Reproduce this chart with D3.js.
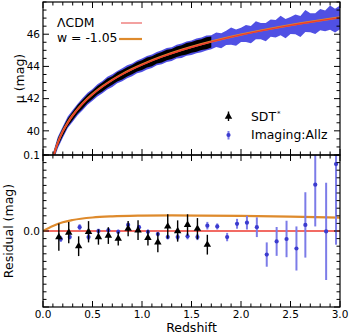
<!DOCTYPE html>
<html><head><meta charset="utf-8">
<script src="https://cdn.jsdelivr.net/npm/d3@7"></script>
<style>
html,body{margin:0;padding:0;background:#fff;}
svg{display:block;font-family:"DejaVu Sans",sans-serif;}
</style></head><body>
<svg id="c" width="350" height="334"></svg>
<script>
// ---- model curves ----
const lcdmZ = [0.10,0.15,0.20,0.25,0.30,0.40,0.50,0.60,0.70,0.80,0.90,1.00,1.20,1.40,1.60,1.80,2.00,2.20,2.40,2.60,2.80,3.00];
const lcdmMu = [38.315,39.266,39.956,40.502,40.955,41.684,42.261,42.739,43.147,43.503,43.818,44.100,44.591,45.005,45.363,45.678,45.958,46.211,46.441,46.652,46.846,47.028];
const wZ   = [0,0.1,0.2,0.3,0.5,0.7,1.0,1.3,1.6,2.0,2.5,3.0];
const wRes = [0,0.0065,0.0115,0.0145,0.0178,0.0193,0.0202,0.0205,0.0203,0.0198,0.0188,0.0176];

// ---- Hubble diagram bands (spread above / below model, mag) ----
const sdtZ  = [0.10,0.15,0.20,0.25,0.30,0.35,0.40,0.45,0.50,0.55,0.60,0.65,0.70,0.75,0.80,0.85,0.90,0.95,1.00,1.05,1.10,1.15,1.20,1.25,1.30,1.35,1.40,1.45,1.50,1.55,1.60,1.65,1.70];
const sdtHi = [0.21,0.26,0.22,0.27,0.23,0.29,0.25,0.28,0.24,0.29,0.26,0.30,0.25,0.31,0.27,0.29,0.27,0.31,0.28,0.33,0.29,0.32,0.30,0.34,0.29,0.34,0.31,0.36,0.33,0.35,0.32,0.37,0.34];
const sdtLo = [0.20,0.23,0.27,0.23,0.28,0.25,0.29,0.24,0.29,0.25,0.30,0.27,0.29,0.26,0.31,0.28,0.31,0.27,0.32,0.29,0.33,0.29,0.34,0.31,0.34,0.31,0.33,0.36,0.33,0.36,0.34,0.38,0.35];
const imgZ  = [0.10,0.15,0.20,0.25,0.30,0.35,0.40,0.45,0.50,0.55,0.60,0.65,0.70,0.75,0.80,0.85,0.90,0.95,1.00,1.05,1.10,1.15,1.20,1.25,1.30,1.35,1.40,1.45,1.50,1.55,1.60,1.65,
               1.70,1.75,1.80,1.85,1.90,1.95,2.00,2.05,2.10,2.15,2.20,2.25,2.30,2.35,2.40,2.45,2.50,2.55,2.60,2.65,2.70,2.75,2.80,2.85,2.90,2.95,3.00];
const imgHi = [0.29,0.36,0.32,0.39,0.34,0.37,0.35,0.40,0.34,0.39,0.36,0.41,0.36,0.39,0.38,0.42,0.37,0.41,0.39,0.43,0.39,0.42,0.41,0.45,0.40,0.44,0.42,0.46,0.43,0.46,0.43,0.48,
               0.42,0.50,0.38,0.46,0.60,0.40,0.45,0.55,0.43,0.66,0.48,0.42,0.58,0.50,0.70,0.45,0.52,0.62,0.48,0.80,0.55,0.50,0.72,0.58,0.85,0.60,0.75];
const imgLo = [0.28,0.34,0.39,0.33,0.39,0.35,0.41,0.36,0.40,0.36,0.41,0.38,0.42,0.37,0.43,0.39,0.43,0.39,0.45,0.41,0.44,0.40,0.46,0.42,0.46,0.41,0.48,0.43,0.47,0.45,0.49,0.46,
               0.45,0.40,0.55,0.42,0.48,0.60,0.44,0.50,0.64,0.46,0.52,0.70,0.48,0.58,0.50,0.75,0.54,0.60,0.82,0.56,0.62,0.78,0.60,0.70,0.66,0.88,0.72];

// ---- binned residuals ----
const sdtBinZ = [0.16,0.26,0.36,0.46,0.56,0.66,0.76,0.86,0.96,1.06,1.16,1.26,1.36,1.46,1.56,1.66];
const sdtRes  = [-0.008,-0.002,-0.020,-0.001,-0.008,-0.006,-0.010,0.003,0.001,-0.009,-0.015,0.006,0.000,0.008,0.003,-0.018];
const sdtErr  = [0.018,0.014,0.013,0.014,0.010,0.011,0.009,0.010,0.013,0.010,0.013,0.016,0.014,0.014,0.014,0.013];
const imgBinZ = [0.18,0.27,0.37,0.46,0.56,0.66,0.76,0.86,0.97,1.06,1.16,1.26,1.36,1.46,1.56,1.66,1.76,1.86,1.96,2.06,2.16,2.26,2.36,2.46,2.56,2.65,2.75,2.86,2.96];
const imgRes  = [-0.0105,-0.008,0.005,-0.008,0.000,0.001,-0.001,0.008,0.005,-0.001,-0.004,-0.008,-0.008,-0.007,-0.008,0.007,0.006,-0.008,0.0095,0.011,0.005,-0.031,-0.0137,-0.0105,-0.023,0.008,0.061,-0.0005,0.088];
const imgErr  = [0.004,0.003,0.004,0.004,0.003,0.003,0.003,0.003,0.003,0.003,0.003,0.003,0.004,0.004,0.004,0.005,0.004,0.0055,0.0065,0.009,0.013,0.016,0.019,0.024,0.029,0.043,0.055,0.064,0.106];

// ---- ticks / labels ----
const xMajor = [0,0.5,1.0,1.5,2.0,2.5,3.0];
const xLabels = ["0.0","0.5","1.0","1.5","2.0","2.5","3.0"];
const y1Major = [40,42,44,46];
const y1Labels = ["40","42","44","46"];
const y2Major = [-0.1,0.0,0.1];
const y2Labels = ["","0.0","0.1"];

const legendTop = ["\u039BCDM","w = -1.05"];
const legendBot = ["SDT","Imaging:Allz"];

const COL_RED = "#ee3a30", COL_RED_LEG = "#f08a88", COL_ORANGE = "#de8a2c";
const COL_BLUE_BAND = "#5050e4", COL_BLUE_BAR = "#7c7ce8", COL_BLUE_PT = "#3b3bcf";

const svg = d3.select('#c');
const L=43,R=340,T1=2,B1=155,T2=155,B2=307;
const x = d3.scaleLinear().domain([0,3]).range([L,R]);
const y1 = d3.scaleLinear().domain([38.5,48]).range([B1,T1]);
const y2 = d3.scaleLinear().domain([-0.1,0.1]).range([B2,T2]);
const model = d3.scaleLinear().domain(lcdmZ).range(lcdmMu);
const wres = d3.scaleLinear().domain(wZ).range(wRes);

const defs = svg.append('defs');
defs.append('clipPath').attr('id','cp1').append('rect').attr('x',L).attr('y',T1).attr('width',R-L).attr('height',B1-T1);
defs.append('clipPath').attr('id','cp2').append('rect').attr('x',L).attr('y',T2).attr('width',R-L).attr('height',B2-T2);

// ---- top panel ----
const g1 = svg.append('g').attr('clip-path','url(#cp1)');
const band = (zs,hi,lo) => d3.area()
  .x((d,i)=>x(zs[i]))
  .y0((d,i)=>y1(model(zs[i])-lo[i]))
  .y1((d,i)=>y1(model(zs[i])+hi[i]))(zs);
g1.append('path').attr('d',band(imgZ,imgHi,imgLo)).attr('fill',COL_BLUE_BAND);
g1.append('path').attr('d',band(sdtZ,sdtHi,sdtLo)).attr('fill','#000');
g1.append('path')
  .attr('d', d3.line().curve(d3.curveCatmullRom).x((d,i)=>x(lcdmZ[i])).y((d,i)=>y1(lcdmMu[i]+wres(lcdmZ[i])))(lcdmZ))
  .attr('fill','none').attr('stroke',COL_ORANGE).attr('stroke-width',2.2);
g1.append('path')
  .attr('d', d3.line().curve(d3.curveCatmullRom).x((d,i)=>x(lcdmZ[i])).y((d,i)=>y1(lcdmMu[i]))(lcdmZ))
  .attr('fill','none').attr('stroke',COL_RED).attr('stroke-width',1.4);

// ---- bottom panel ----
const g2 = svg.append('g').attr('clip-path','url(#cp2)');
g2.append('line').attr('x1',x(0)).attr('x2',x(3)).attr('y1',y2(0)).attr('y2',y2(0))
  .attr('stroke',COL_RED).attr('stroke-width',1.3);
g2.append('path')
  .attr('d', d3.line().curve(d3.curveMonotoneX).x((d,i)=>x(wZ[i])).y((d,i)=>y2(wRes[i]))(wZ))
  .attr('fill','none').attr('stroke',COL_ORANGE).attr('stroke-width',2.2);

imgBinZ.forEach((z,i)=>{
  g2.append('line').attr('x1',x(z)).attr('x2',x(z))
    .attr('y1',y2(imgRes[i]-imgErr[i])).attr('y2',y2(imgRes[i]+imgErr[i]))
    .attr('stroke',COL_BLUE_BAR).attr('stroke-width',2);
});
imgBinZ.forEach((z,i)=>{
  g2.append('circle').attr('cx',x(z)).attr('cy',y2(imgRes[i])).attr('r',2.1).attr('fill',COL_BLUE_PT);
});
const tri = d3.symbol().type(d3.symbolTriangle).size(24);
sdtBinZ.forEach((z,i)=>{
  g2.append('line').attr('x1',x(z)).attr('x2',x(z))
    .attr('y1',y2(sdtRes[i]-sdtErr[i])).attr('y2',y2(sdtRes[i]+sdtErr[i]))
    .attr('stroke','#000').attr('stroke-width',1.4);
  g2.append('path').attr('d',tri()).attr('transform',`translate(${x(z)},${y2(sdtRes[i])})`).attr('fill','#000');
});

// ---- axes ----
function ticksX(yPos, dir, withLabels){
  const g = svg.append('g');
  d3.range(0,3.0001,0.1).forEach(v=>{
    const major = xMajor.some(m=>Math.abs(m-v)<1e-6);
    const len = major?6:3.5;
    g.append('line').attr('x1',x(v)).attr('x2',x(v)).attr('y1',yPos).attr('y2',yPos+dir*len)
      .attr('stroke','#000').attr('stroke-width',1);
  });
  if(withLabels){
    xMajor.forEach((v,i)=>{
      g.append('text').attr('x',x(v)).attr('y',yPos+10.5).attr('text-anchor','middle')
        .attr('font-size',10.5).attr('fill','#000').text(xLabels[i]);
    });
  }
}
function ticksY(xPos, dir, scale, minors, majors, labels){
  const g = svg.append('g');
  minors.forEach(v=>{
    const major = majors.some(m=>Math.abs(m-v)<1e-6);
    const len = major?6:3.5;
    g.append('line').attr('y1',scale(v)).attr('y2',scale(v)).attr('x1',xPos).attr('x2',xPos+dir*len)
      .attr('stroke','#000').attr('stroke-width',1);
  });
  if(labels){
    majors.forEach((v,i)=>{
      g.append('text').attr('x',xPos-3).attr('y',scale(v)).attr('dy','0.36em').attr('text-anchor','end')
        .attr('font-size',10.5).attr('fill','#000').text(labels[i]);
    });
  }
}
const y1Minor = d3.range(38.5,48.0001,0.5);
const y2Minor = d3.range(-0.1,0.1001,0.01).map(v=>Math.round(v*100)/100);
ticksX(T1, 1, false);
ticksX(B1, -1, false);
ticksX(T2, 1, false);
ticksX(B2, -1, true);
ticksY(L, 1, y1, y1Minor, y1Major, y1Labels);
ticksY(R, -1, y1, y1Minor, y1Major, null);
ticksY(L, 1, y2, y2Minor, y2Major, y2Labels);
ticksY(R, -1, y2, y2Minor, y2Major, null);

svg.append('rect').attr('x',L).attr('y',T1).attr('width',R-L).attr('height',B1-T1)
  .attr('fill','none').attr('stroke','#000').attr('stroke-width',1.2);
svg.append('rect').attr('x',L).attr('y',T2).attr('width',R-L).attr('height',B2-T2)
  .attr('fill','none').attr('stroke','#000').attr('stroke-width',1.2);

// axis labels
svg.append('text').attr('x',(L+R)/2).attr('y',332).attr('text-anchor','middle')
  .attr('font-size',12.5).text('Redshift');
svg.append('text').attr('transform',`translate(23.5,${(T1+B1)/2}) rotate(-90)`).attr('text-anchor','middle')
  .attr('font-size',12.5).text('\u03BC (mag)');
svg.append('text').attr('transform',`translate(13,${(T2+B2)/2}) rotate(-90)`).attr('text-anchor','middle')
  .attr('font-size',12.5).text('Residual (mag)');

// legend top-left
svg.append('text').attr('x',57).attr('y',27).attr('font-size',12.4).text(legendTop[0]);
svg.append('line').attr('x1',121).attr('x2',142).attr('y1',23).attr('y2',23).attr('stroke',COL_RED_LEG).attr('stroke-width',1.6);
svg.append('text').attr('x',57).attr('y',41.5).attr('font-size',12.4).text(legendTop[1]);
svg.append('line').attr('x1',119).attr('x2',142).attr('y1',39).attr('y2',39).attr('stroke',COL_ORANGE).attr('stroke-width',2.2);

// legend bottom-right
svg.append('line').attr('x1',228.5).attr('x2',228.5).attr('y1',111.5).attr('y2',121).attr('stroke','#000').attr('stroke-width',1.4);
svg.append('path').attr('d',tri()).attr('transform','translate(228.5,116.5)').attr('fill','#000');
const t1 = svg.append('text').attr('x',251).attr('y',120.5).attr('font-size',12.4);
t1.append('tspan').text(legendBot[0]);
t1.append('tspan').attr('font-size',7).attr('dy',-5).attr('dx',1).text('*');
svg.append('line').attr('x1',228.5).attr('x2',228.5).attr('y1',131).attr('y2',139.5).attr('stroke',COL_BLUE_BAR).attr('stroke-width',2);
svg.append('circle').attr('cx',228.5).attr('cy',135).attr('r',2.1).attr('fill',COL_BLUE_PT);
svg.append('text').attr('x',251).attr('y',139).attr('font-size',12.4).text(legendBot[1]);
</script>
</body></html>
